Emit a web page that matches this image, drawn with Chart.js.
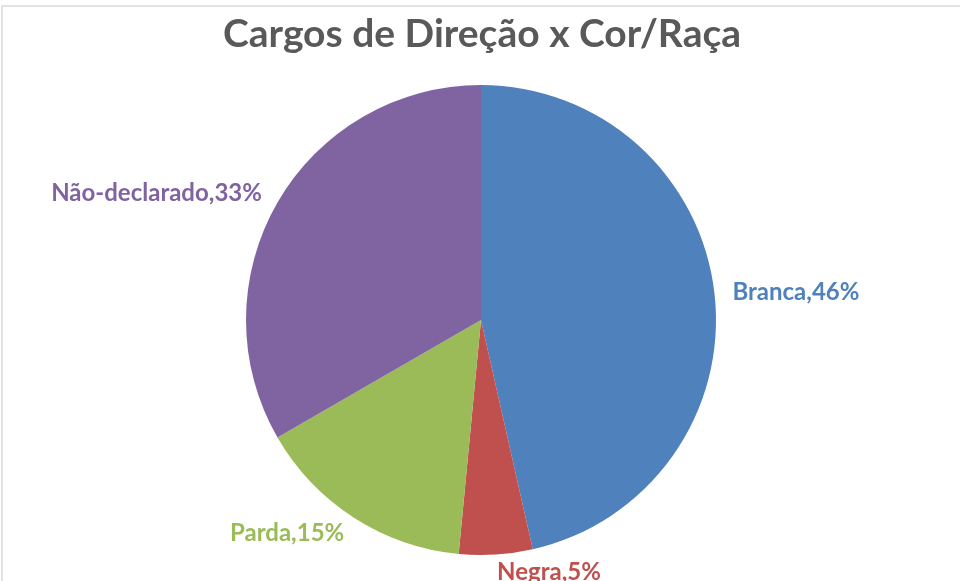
<!DOCTYPE html>
<html>
<head>
<meta charset="utf-8">
<script src="https://cdn.jsdelivr.net/npm/chart.js@4"></script>
<style>
  html, body { margin: 0; padding: 0; background: #ffffff; overflow: hidden; }
  #wrap { position: relative; width: 960px; height: 581px; }
  #frame { position: absolute; left: 1px; top: 5px; width: 1200px; height: 1200px; border: 2px solid #e2e2e2; box-sizing: border-box; pointer-events: none; }
  canvas { position: absolute; left: 0; top: 0; }
</style>
</head>
<body>
<div id="wrap">
  <div id="frame"></div>
  <canvas id="c" width="960" height="581"></canvas>
</div>
<script>
const titleText = "Cargos de Direção x Cor/Raça";
const categories = ["Branca", "Negra", "Parda", "Não-declarado"];
const values = [46, 5, 15, 33];
const colors = ["#4f81bd", "#c0504d", "#9bbb59", "#8064a2"];

const FONT = "Lato, 'Open Sans', sans-serif";

const titlePlugin = {
  id: 'customTitle',
  afterDraw(chart) {
    const ctx = chart.ctx;
    ctx.save();
    ctx.fillStyle = "#595959";
    ctx.font = "bold 39px " + FONT;
    ctx.textAlign = "center";
    ctx.textBaseline = "middle";
    ctx.fillText(titleText, 482, 34);
    ctx.restore();
  }
};

const labelPlugin = {
  id: 'outsideLabels',
  afterDraw(chart) {
    const ctx = chart.ctx;
    const meta = chart.getDatasetMeta(0);
    ctx.save();
    ctx.font = "bold 24px " + FONT;
    ctx.textBaseline = "middle";
    meta.data.forEach((arc, i) => {
      const p = arc.getProps(['x', 'y', 'startAngle', 'endAngle', 'outerRadius'], true);
      const mid = (p.startAngle + p.endAngle) / 2;
      const r = p.outerRadius + 18;
      const ax = p.x + Math.cos(mid) * r;
      const ay = p.y + Math.sin(mid) * r;
      ctx.fillStyle = colors[i];
      ctx.textAlign = Math.cos(mid) >= 0 ? "left" : "right";
      ctx.fillText(categories[i] + "," + values[i] + "%", ax, ay);
    });
    ctx.restore();
  }
};

new Chart(document.getElementById('c'), {
  type: 'pie',
  data: {
    labels: categories,
    datasets: [{
      data: values,
      backgroundColor: colors,
      borderWidth: 0
    }]
  },
  options: {
    responsive: false,
    animation: false,
    layout: { padding: { top: 85, bottom: 26, left: 2, right: 0 } },
    plugins: {
      legend: { display: false },
      title: { display: false },
      tooltip: { enabled: false }
    }
  },
  plugins: [titlePlugin, labelPlugin]
});
</script>
</body>
</html>
